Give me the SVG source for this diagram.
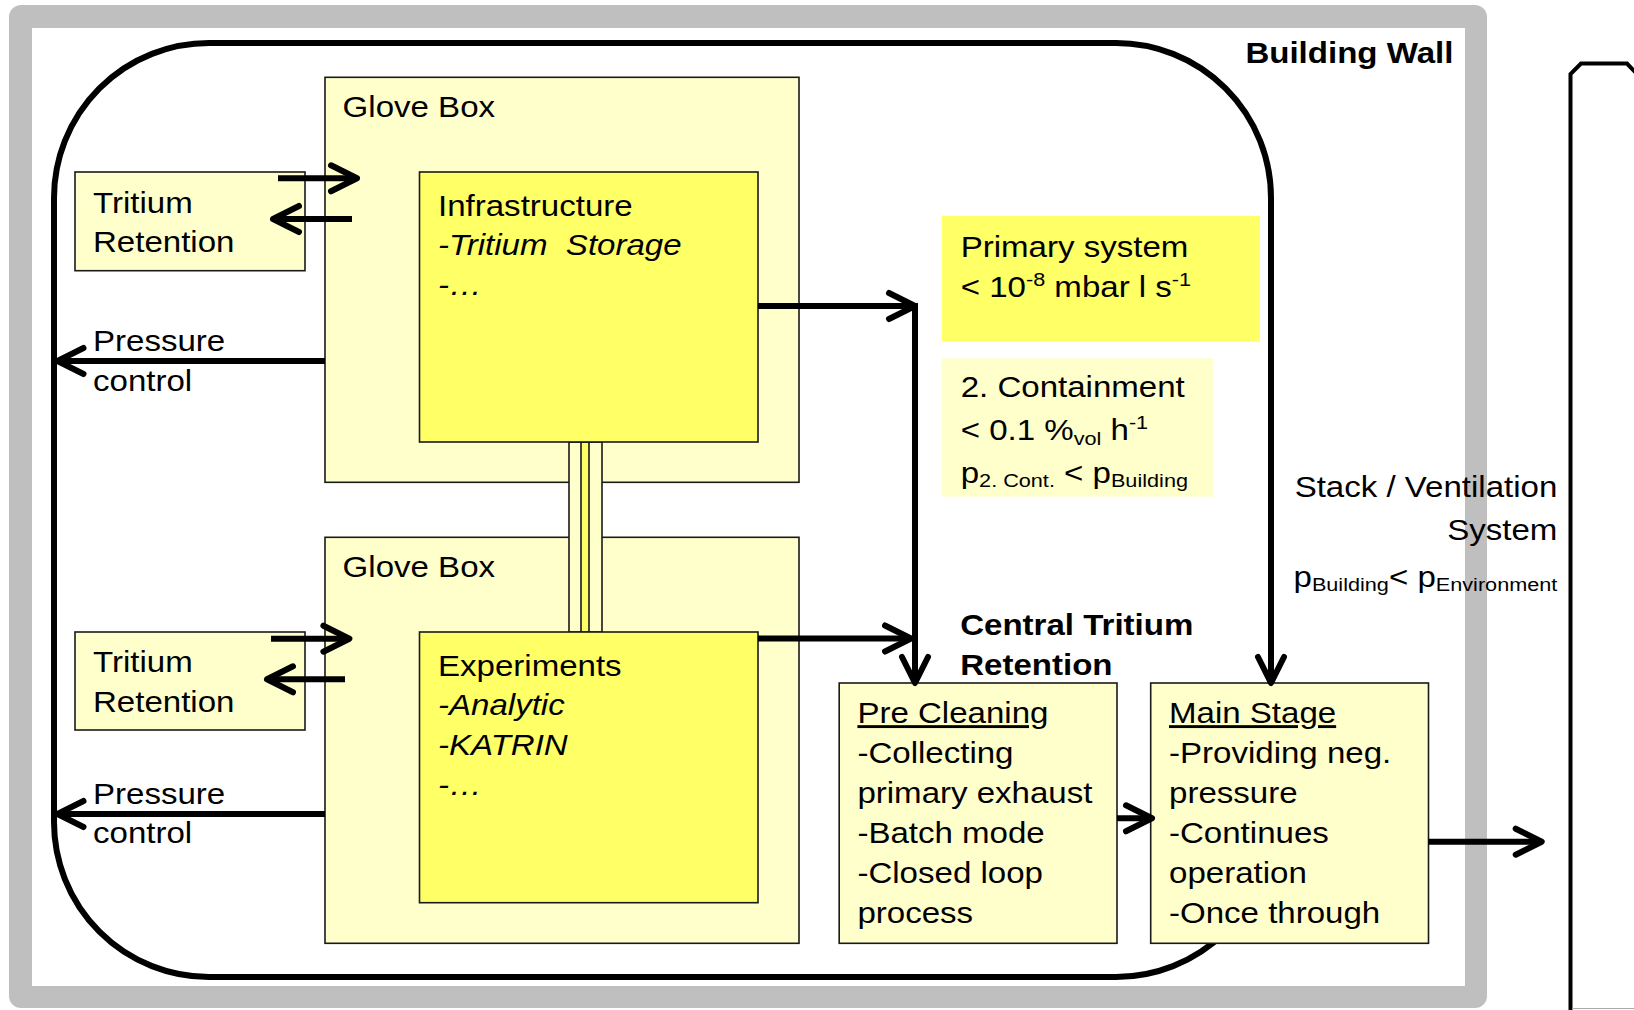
<svg xmlns="http://www.w3.org/2000/svg" width="1634" height="1010" viewBox="0 0 1634 1010">
<style>
.t{font-family:"Liberation Sans",Arial,sans-serif;font-size:29px;fill:#000}
.b{font-weight:bold}
.i{font-style:italic}
.s{font-size:19px}
.u{text-decoration:underline}
.lt{fill:#FFFFCC;stroke:#1a1a1a;stroke-width:1.6}
.dk{fill:#FFFF66;stroke:#1a1a1a;stroke-width:1.6}
.ar{fill:none;stroke:#000;stroke-width:6;marker-end:url(#ah)}
</style>
<defs>
<marker id="ah" markerUnits="userSpaceOnUse" markerWidth="40" markerHeight="40" viewBox="-34 -20 40 40" refX="0" refY="0" orient="auto" overflow="visible">
<path d="M-26,-13 L0,0 L-26,13" fill="none" stroke="#000" stroke-width="6" stroke-linecap="round" stroke-linejoin="round"/>
</marker>
</defs>
<rect width="1634" height="1010" fill="#fff"/>
<g id="building-wall">
<rect x="9" y="5" width="1478" height="1003" rx="12" fill="#BFBFBF"/>
<rect x="32" y="28" width="1433" height="958" fill="#fff"/>
<text class="t b" text-anchor="end" transform="translate(1453.4 63.3) scale(1.14 1)">Building Wall</text>
</g>
<g id="stack">
<path d="M1570.5,1010 V74 L1581,63.5 H1627 L1640,77" fill="none" stroke="#000" stroke-width="4"/>
<line x1="1572" y1="1008.5" x2="1634" y2="1008.5" stroke="#aaa" stroke-width="1"/>
</g>
<g id="containment-boundary">
<rect x="54" y="43" width="1217" height="934" rx="155" ry="155" fill="none" stroke="#000" stroke-width="6"/>
</g>
<g id="glovebox1">
<rect class="lt" x="325" y="77.3" width="474" height="405"/>
<text class="t" transform="translate(342.6 117.3) scale(1.14 1)">Glove Box</text>
</g>
<g id="glovebox2">
<rect class="lt" x="325" y="537.3" width="474" height="406"/>
<text class="t" transform="translate(342.6 577.3) scale(1.14 1)">Glove Box</text>
</g>
<g id="tube">
<rect class="lt" x="569" y="442" width="33" height="190"/>
<rect class="dk" x="581" y="442" width="8" height="190"/>
</g>
<g id="infrastructure">
<rect class="dk" x="419.5" y="172" width="338.5" height="270"/>
<text class="t" transform="translate(438 216) scale(1.14 1)"><tspan x="0" y="0">Infrastructure</tspan><tspan class="i" x="0" y="39.5">-Tritium&#160; Storage</tspan><tspan class="i" x="0" y="79">-…</tspan></text>
</g>
<g id="experiments">
<rect class="dk" x="419.5" y="632" width="338.5" height="270.7"/>
<text class="t" transform="translate(438 675.7) scale(1.14 1)"><tspan x="0" y="0">Experiments</tspan><tspan class="i" x="0" y="39.5">-Analytic</tspan><tspan class="i" x="0" y="79">-KATRIN</tspan><tspan class="i" x="0" y="119">-…</tspan></text>
</g>
<g id="tritium-retention1">
<rect class="lt" x="75" y="172" width="230" height="98.7"/>
<text class="t" transform="translate(93 212.7) scale(1.14 1)"><tspan x="0" y="0">Tritium</tspan><tspan x="0" y="39.6">Retention</tspan></text>
</g>
<g id="tritium-retention2">
<rect class="lt" x="75" y="632" width="230" height="98"/>
<text class="t" transform="translate(93 672.3) scale(1.14 1)"><tspan x="0" y="0">Tritium</tspan><tspan x="0" y="40">Retention</tspan></text>
</g>
<g id="primary-system">
<rect x="941.7" y="216" width="318.3" height="125.7" fill="#FFFF66"/>
<text class="t" transform="translate(960.7 257) scale(1.14 1)"><tspan x="0" y="0">Primary system</tspan><tspan x="0" y="40">&lt; 10<tspan class="s" dy="-11">-8</tspan><tspan dy="11"> mbar l s</tspan><tspan class="s" dy="-11">-1</tspan></tspan></text>
</g>
<g id="second-containment">
<rect x="941.7" y="358.3" width="271.6" height="138.4" fill="#FFFFCC"/>
<text class="t" transform="translate(960.7 396.7) scale(1.14 1)"><tspan x="0" y="0">2. Containment</tspan><tspan x="0" y="43.3">&lt; 0.1 %<tspan class="s" dy="5">vol</tspan><tspan dy="-5"> h</tspan><tspan class="s" dy="-11">-1</tspan></tspan><tspan x="0" y="86.5">p<tspan class="s" dy="4">2. Cont.</tspan><tspan dy="-4"> &lt; p</tspan><tspan class="s" dy="4">Building</tspan></tspan></text>
</g>
<g id="stack-label">
<text class="t" text-anchor="end" transform="translate(1557.3 497.3) scale(1.14 1)"><tspan x="0" y="0">Stack / Ventilation</tspan><tspan x="0" y="42.7">System</tspan><tspan x="0" y="89.5">p<tspan class="s" dy="4">Building</tspan><tspan dy="-4">&lt; p</tspan><tspan class="s" dy="4">Environment</tspan></tspan></text>
</g>
<g id="central-label">
<text class="t b" transform="translate(960.2 635) scale(1.14 1)"><tspan x="0" y="0">Central Tritium</tspan><tspan x="0" y="40">Retention</tspan></text>
</g>
<g id="pre-cleaning">
<rect class="lt" x="839.2" y="683" width="277.8" height="260.3"/>
<text class="t" transform="translate(857.4 723.3) scale(1.14 1)"><tspan class="u" x="0" y="0">Pre Cleaning</tspan><tspan x="0" y="40">-Collecting</tspan><tspan x="0" y="80">primary exhaust</tspan><tspan x="0" y="120">-Batch mode</tspan><tspan x="0" y="160">-Closed loop</tspan><tspan x="0" y="200">process</tspan></text>
</g>
<g id="main-stage">
<rect class="lt" x="1150.7" y="683" width="277.8" height="260.3"/>
<text class="t" transform="translate(1169 723.3) scale(1.14 1)"><tspan class="u" x="0" y="0">Main Stage</tspan><tspan x="0" y="40">-Providing neg.</tspan><tspan x="0" y="80">pressure</tspan><tspan x="0" y="120">-Continues</tspan><tspan x="0" y="160">operation</tspan><tspan x="0" y="200">-Once through</tspan></text>
</g>
<g id="pressure-labels">
<text class="t" transform="translate(93 351) scale(1.14 1)"><tspan x="0" y="0">Pressure</tspan><tspan x="0" y="39.7">control</tspan></text>
<text class="t" transform="translate(93 804) scale(1.14 1)"><tspan x="0" y="0">Pressure</tspan><tspan x="0" y="39.3">control</tspan></text>
</g>
<g id="connectors">
<path class="ar" d="M278,178.3 H357"/>
<path class="ar" d="M352,219 H273"/>
<path class="ar" d="M271,638.7 H349.4"/>
<path class="ar" d="M345,679.3 H267"/>
<path class="ar" d="M325,361 H57.5"/>
<path class="ar" d="M325,814 H57.5"/>
<path class="ar" d="M758,306 H915"/>
<path class="ar" d="M915,303 V683"/>
<path class="ar" d="M758,638.5 H911"/>
<path class="ar" d="M1271,600 V683"/>
<path class="ar" d="M1117,818.3 H1152"/>
<path class="ar" d="M1428.5,841.7 H1541.7"/>
</g>
</svg>
